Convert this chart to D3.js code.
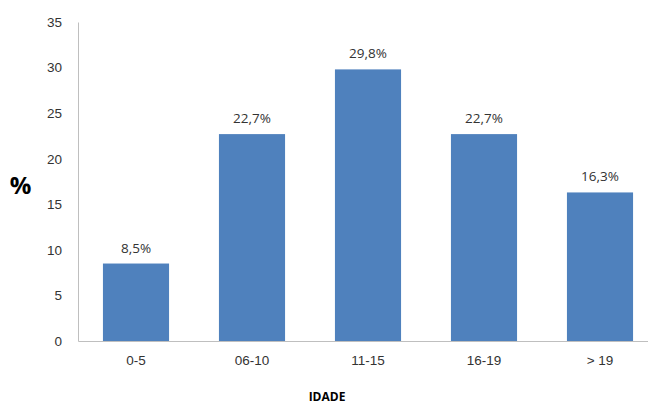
<!DOCTYPE html>
<html>
<head>
<meta charset="utf-8">
<script src="https://cdn.jsdelivr.net/npm/d3@7"></script>
<style>
  html, body { margin: 0; padding: 0; background: #fff; }
  svg { display: block; font-family: "Open Sans", "Noto Sans", sans-serif; }
</style>
</head>
<body>
<svg id="chart" width="648" height="405"></svg>
<script>
// Age groups and their share (%)
const categories = ["0-5", "06-10", "11-15", "16-19", "> 19"];
const values = [8.5, 22.7, 29.8, 22.7, 16.3];
const yTicks = [0, 5, 10, 15, 20, 25, 30, 35];

const svg = d3.select("#chart");
const plotLeft = 78, plotRight = 658, plotTop = 22, plotBottom = 341;
const labelSize = 13.5;

const x = d3.scaleBand().domain(categories).range([plotLeft, plotRight]).paddingInner(0.43).paddingOuter(0.215);
const y = d3.scaleLinear().domain([0, 35]).range([plotBottom, plotTop]);

const fmt = v => v.toFixed(1).replace(".", ",") + "%";

// bars
svg.append("g").selectAll("rect").data(values).join("rect")
  .attr("x", (d, i) => x(categories[i]))
  .attr("y", d => y(d))
  .attr("width", x.bandwidth())
  .attr("height", d => y(0) - y(d))
  .attr("fill", "#4F81BD");

// y axis
const yAxis = svg.append("g").attr("transform", `translate(${plotLeft},0)`)
  .call(d3.axisLeft(y).tickValues(yTicks).tickSize(0).tickPadding(16));
yAxis.select(".domain").attr("stroke", "#BFBFBF");
yAxis.selectAll("text").attr("font-size", labelSize).attr("fill", "#333").attr("font-family", "inherit");

// x axis
const xAxis = svg.append("g").attr("transform", `translate(0,${plotBottom})`)
  .call(d3.axisBottom(x).tickSize(0).tickPadding(14));
xAxis.select(".domain").attr("stroke", "#BFBFBF");
xAxis.selectAll("text").attr("font-size", labelSize).attr("fill", "#333").attr("font-family", "inherit");

// value labels
svg.append("g").selectAll("text").data(values).join("text")
  .attr("x", (d, i) => x(categories[i]) + x.bandwidth() / 2)
  .attr("y", d => y(d) - 11)
  .attr("text-anchor", "middle")
  .attr("font-size", labelSize)
  .attr("fill", "#333")
  .text(fmt);

// axis titles
svg.append("text").attr("x", 20.5).attr("y", 194).attr("text-anchor", "middle")
  .attr("font-size", 24).attr("font-weight", "bold").attr("fill", "#000").text("%");
svg.append("text").attr("x", 327).attr("y", 401).attr("text-anchor", "middle")
  .attr("font-size", 12).attr("font-weight", "bold").attr("fill", "#000").text("IDADE");
</script>
</body>
</html>
